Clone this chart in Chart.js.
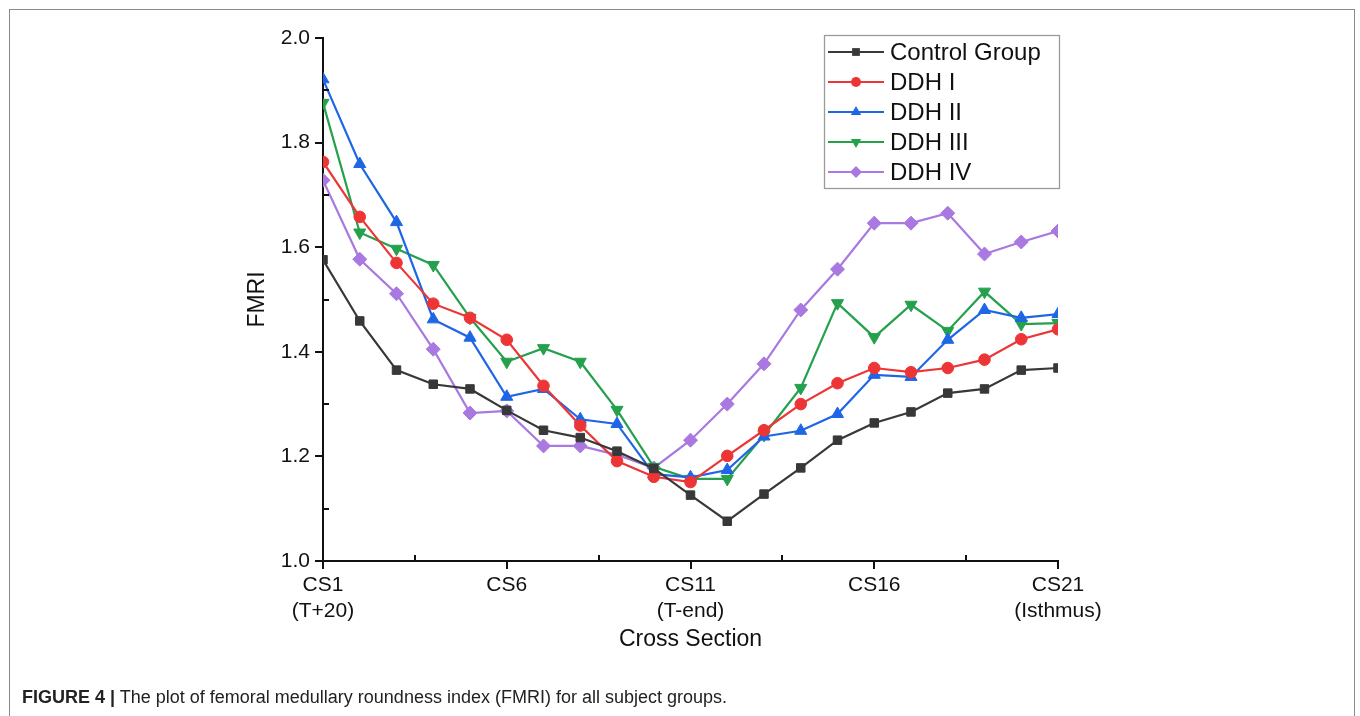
<!DOCTYPE html>
<html><head><meta charset="utf-8">
<script src="https://cdn.jsdelivr.net/npm/chart.js@4/dist/chart.umd.min.js"></script>
<style>
html,body{margin:0;padding:0;background:#fff;width:1360px;height:716px;overflow:hidden}
#frame{position:absolute;left:9px;top:9px;width:1346px;height:760px;border:1.5px solid #8a8a8a;box-sizing:border-box}
#wrap{position:absolute;left:0;top:0;width:1360px;height:716px}
#cap{position:absolute;left:22px;top:687px;font-family:"Liberation Sans Narrow","Liberation Sans",sans-serif;font-size:18px;color:#222;white-space:nowrap}
</style></head><body>
<div id="frame"></div>
<div id="wrap"><canvas id="c"></canvas></div>
<div id="cap"><b>FIGURE 4 |</b> The plot of femoral medullary roundness index (FMRI) for all subject groups.</div>
<script>
const sections = [1,2,3,4,5,6,7,8,9,10,11,12,13,14,15,16,17,18,19,20,21];
const tickValues = [1,6,11,16,21];
const tickLabels = [["CS1","(T+20)"],["CS6"],["CS11","(T-end)"],["CS16"],["CS21","(Isthmus)"]];
const yTicks = [1.0,1.2,1.4,1.6,1.8,2.0];
const seriesNames = ["Control Group","DDH I","DDH II","DDH III","DDH IV"];
const controlGroup = [1.576,1.459,1.365,1.338,1.329,1.288,1.250,1.236,1.210,1.177,1.126,1.076,1.128,1.178,1.231,1.264,1.285,1.321,1.329,1.365,1.369];
const ddh1 = [1.763,1.658,1.570,1.492,1.465,1.423,1.335,1.259,1.191,1.161,1.151,1.201,1.250,1.300,1.340,1.369,1.361,1.369,1.385,1.424,1.443];
const ddh2 = [1.921,1.759,1.648,1.462,1.427,1.314,1.329,1.271,1.262,1.166,1.160,1.174,1.238,1.249,1.281,1.356,1.352,1.423,1.480,1.465,1.472];
const ddh3 = [1.876,1.628,1.597,1.566,1.465,1.381,1.407,1.381,1.289,1.180,1.157,1.157,1.241,1.331,1.493,1.428,1.490,1.440,1.515,1.453,1.455];
const ddh4 = [1.728,1.577,1.511,1.405,1.283,1.287,1.220,1.220,1.203,1.178,1.231,1.300,1.377,1.480,1.558,1.646,1.646,1.665,1.587,1.610,1.631];

const allSeries = [controlGroup, ddh1, ddh2, ddh3, ddh4];
const colors = ['#383838','#EE3535','#1F66E5','#25A04C','#A978E0'];
const styles = ['rect','circle','triangle','triangle','rectRot'];
const rotations = [0,0,0,180,0];
const radii = [6,5.8,7,7,7];

const datasets = allSeries.map((arr,i)=>({
  label: seriesNames[i],
  data: arr.map((v,j)=>({x: sections[j], y: v})),
  borderColor: colors[i],
  backgroundColor: colors[i],
  pointBackgroundColor: colors[i],
  pointBorderColor: colors[i],
  pointBorderWidth: 1,
  pointStyle: styles[i],
  pointRotation: rotations[i],
  pointRadius: radii[i],
  pointHoverRadius: radii[i],
  borderWidth: 2.2,
  tension: 0,
  fill: false
}));

function drawMarker(ctx, style, x, y, r, rot){
  ctx.beginPath();
  if(style==='circle'){ ctx.arc(x,y,r,0,Math.PI*2); }
  else if(style==='rect'){ const s=r*Math.SQRT1_2; ctx.rect(x-s,y-s,2*s,2*s); }
  else if(style==='rectRot'){ ctx.moveTo(x,y-r); ctx.lineTo(x+r,y); ctx.lineTo(x,y+r); ctx.lineTo(x-r,y); ctx.closePath(); }
  else if(style==='triangle'){
    const d = rot===180 ? -1 : 1;
    ctx.moveTo(x, y - d*r); ctx.lineTo(x + r*0.866, y + d*r*0.5); ctx.lineTo(x - r*0.866, y + d*r*0.5); ctx.closePath();
  }
  ctx.fill();
}

const extras = {
  id: 'extras',
  afterDraw(chart){
    const ctx = chart.ctx, ca = chart.chartArea, xs = chart.scales.x, ys = chart.scales.y;
    ctx.save();
    ctx.strokeStyle = '#111'; ctx.lineWidth = 2;
    [1.1,1.3,1.5,1.7,1.9].forEach(v=>{
      const p = Math.round(ys.getPixelForValue(v));
      ctx.beginPath(); ctx.moveTo(ca.left, p); ctx.lineTo(ca.left+6, p); ctx.stroke();
    });
    [3.5,8.5,13.5,18.5].forEach(v=>{
      const p = Math.round(xs.getPixelForValue(v));
      ctx.beginPath(); ctx.moveTo(p, ca.bottom); ctx.lineTo(p, ca.bottom-6); ctx.stroke();
    });
    // legend
    const bx = 824.5, by = 35.5, bw = 235, bh = 153;
    ctx.fillStyle = '#fff'; ctx.fillRect(bx,by,bw,bh);
    ctx.strokeStyle = '#9a9a9a'; ctx.lineWidth = 1.3; ctx.strokeRect(bx,by,bw,bh);
    ctx.font = '24px "Liberation Sans", Arial, sans-serif';
    ctx.textBaseline = 'middle'; ctx.textAlign = 'left';
    chart.data.datasets.forEach((ds,i)=>{
      const y = 52 + 30*i;
      ctx.strokeStyle = ds.borderColor; ctx.lineWidth = 2.2;
      ctx.beginPath(); ctx.moveTo(828,y); ctx.lineTo(884,y); ctx.stroke();
      ctx.fillStyle = ds.borderColor;
      drawMarker(ctx, ds.pointStyle, 856, y, ds.pointStyle==='rect'?5.5:(ds.pointStyle==='circle'?5:6), ds.pointRotation);
      ctx.fillStyle = '#111';
      ctx.fillText(ds.label, 890, y+1);
    });
    ctx.restore();
  }
};

new Chart(document.getElementById('c'), {
  type: 'line',
  data: { datasets },
  options: {
    responsive: true,
    maintainAspectRatio: false,
    animation: false,
    events: [],
    layout: { padding: { left: 240, top: 38, right: 302, bottom: 59 } },
    plugins: { legend: { display: false }, tooltip: { enabled: false } },
    scales: {
      x: {
        type: 'linear', min: 1, max: 21,
        afterFit: s => { s.height = 96; },
        afterBuildTicks: s => { s.ticks = tickValues.map(v=>({value:v})); },
        border: { color: '#111', width: 2 },
        grid: { drawOnChartArea: false, drawTicks: true, tickLength: 8, color: '#111', lineWidth: 2 },
        ticks: {
          autoSkip: false, maxRotation: 0, padding: 3, color: '#111',
          font: { family: '"Liberation Sans", Arial, sans-serif', size: 21, lineHeight: 1.25 },
          callback: v => { const k = tickValues.indexOf(v); return k>=0 ? tickLabels[k] : ''; }
        },
        title: { display: true, text: 'Cross Section', color: '#111', padding: { top: 2, bottom: 4 },
          font: { family: '"Liberation Sans", Arial, sans-serif', size: 23 } }
      },
      y: {
        type: 'linear', min: 1.0, max: 2.0,
        afterFit: s => { s.width = 83; },
        afterBuildTicks: s => { s.ticks = yTicks.map(v=>({value:v})); },
        border: { color: '#111', width: 2 },
        grid: { drawOnChartArea: false, drawTicks: true, tickLength: 8, color: '#111', lineWidth: 2 },
        ticks: {
          padding: 5, color: '#111',
          font: { family: '"Liberation Sans", Arial, sans-serif', size: 21 },
          callback: v => Number(v).toFixed(1)
        },
        title: { display: true, text: 'FMRI', color: '#111', padding: { top: 4, bottom: 4 },
          font: { family: '"Liberation Sans", Arial, sans-serif', size: 23 } }
      }
    }
  },
  plugins: [extras]
});
</script>
</body></html>
